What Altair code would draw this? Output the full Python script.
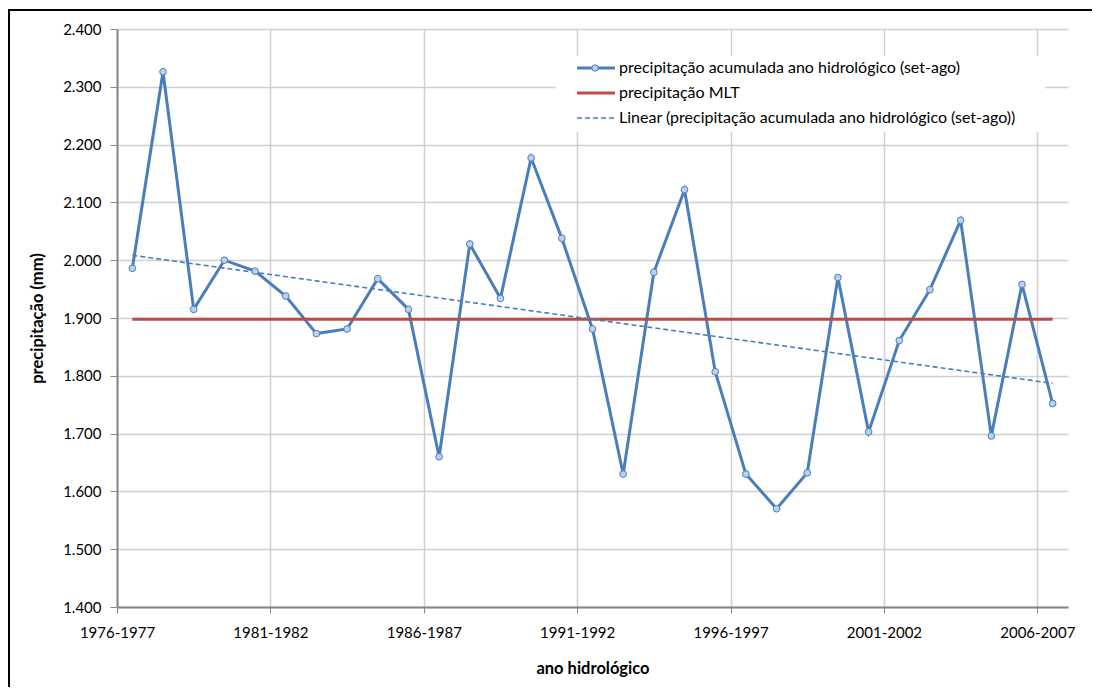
import altair as alt
import numpy as np
import pandas as pd

# ---- data ----
categories = [
    "1976-1977", "1977-1978", "1978-1979", "1979-1980", "1980-1981",
    "1981-1982", "1982-1983", "1983-1984", "1984-1985", "1985-1986",
    "1986-1987", "1987-1988", "1988-1989", "1989-1990", "1990-1991",
    "1991-1992", "1992-1993", "1993-1994", "1994-1995", "1995-1996",
    "1996-1997", "1997-1998", "1998-1999", "1999-2000", "2000-2001",
    "2001-2002", "2002-2003", "2003-2004", "2004-2005", "2005-2006",
    "2006-2007",
]
precip = [1986, 2326, 1915, 2000, 1981, 1938, 1873, 1881, 1968, 1915,
          1660, 2028, 1934, 2177, 2038, 1881, 1630, 1979, 2122, 1807,
          1630, 1570, 1632, 1970, 1703, 1861, 1949, 2069, 1696, 1958,
          1752]
mlt_value = 1898
y_ticks = [1400, 1500, 1600, 1700, 1800, 1900, 2000, 2100, 2200, 2300, 2400]
x_tick_index = [0, 5, 10, 15, 20, 25, 30]
legend_labels = [
    "precipitação acumulada ano hidrológico (set-ago)",
    "precipitação MLT",
    "Linear (precipitação acumulada ano hidrológico (set-ago))",
]

BLUE = "#4a7ebb"
RED = "#be4b48"
MARKER_FILL = "#b9d1ea"
AXIS_GRAY = "#868686"
GRID = "#d0d0d0"
FONT = "Lato"

W, H = 951, 578

df = pd.DataFrame({
    "idx": np.arange(len(categories)) + 0.5,
    "ano": categories,
    "precip": precip,
    "mlt": [mlt_value] * len(categories),
})

label_array = "[" + ",".join("'" + c + "'" for c in categories) + "]"

x_scale = alt.Scale(domain=[0, len(categories)], nice=False, zero=False)
y_scale = alt.Scale(domain=[1400, 2400], nice=False, zero=False)

x_axis = alt.Axis(
    values=x_tick_index,
    labelExpr=label_array + "[datum.value]",
    title="ano hidrológico",
    titleY=61, titleBaseline="middle",
    titleFont=FONT, titleFontSize=16.5, titleFontWeight="bold", titleColor="black",
    labelFont=FONT, labelFontSize=15, labelColor="black",
    labelPadding=12, tickSize=6, tickColor=AXIS_GRAY, tickWidth=1,
    domainColor=AXIS_GRAY, domainWidth=2,
    grid=True, gridColor=GRID, gridWidth=1.5,
    labelOverlap=False, labelBound=False, labelFlush=False,
)
y_axis = alt.Axis(
    values=y_ticks,
    labelExpr="replace(format(datum.value, ','), ',', '.')",
    title="precipitação (mm)",
    titleX=-80, titleY=H / 2, titleAngle=270, titleAlign="center", titleBaseline="middle",
    titleFont=FONT, titleFontSize=16.5, titleFontWeight="bold", titleColor="black",
    labelFont=FONT, labelFontSize=15, labelColor="black",
    labelPadding=9, tickSize=7, tickColor=AXIS_GRAY, tickWidth=1,
    domainColor=AXIS_GRAY, domainWidth=2,
    grid=True, gridColor=GRID, gridWidth=1.5,
)

base = alt.Chart(df)

series_line = base.mark_line(color=BLUE, strokeWidth=3).encode(
    x=alt.X("idx:Q", scale=x_scale, axis=x_axis),
    y=alt.Y("precip:Q", scale=y_scale, axis=y_axis),
)
mlt_line = base.mark_line(color=RED, strokeWidth=3).encode(
    x=alt.X("idx:Q", scale=x_scale),
    y=alt.Y("mlt:Q", scale=y_scale),
)
trend = base.transform_regression(
    "idx", "precip", extent=[0.5, len(categories) - 0.5]
).mark_line(color=BLUE, strokeWidth=1.6, strokeDash=[5, 3]).encode(
    x=alt.X("idx:Q", scale=x_scale),
    y=alt.Y("precip:Q", scale=y_scale),
)
markers = base.mark_point(
    shape="circle", size=45, filled=True, fill=MARKER_FILL,
    stroke=BLUE, strokeWidth=1, opacity=1,
).encode(
    x=alt.X("idx:Q", scale=x_scale),
    y=alt.Y("precip:Q", scale=y_scale),
)

one = pd.DataFrame({"k": [0]})

# legend (drawn by hand)
leg_box = alt.Chart(one).mark_rect(fill="white").encode(
    x=alt.value(439), x2=alt.value(928), y=alt.value(27), y2=alt.value(103)
)
row_y = [39, 64, 89]
leg_sym1 = alt.Chart(one).mark_rule(color=BLUE, strokeWidth=3).encode(
    x=alt.value(460), x2=alt.value(498), y=alt.value(row_y[0])
)
leg_pt = alt.Chart(one).mark_point(
    shape="circle", size=40, filled=True, fill=MARKER_FILL, stroke=BLUE,
    strokeWidth=1, opacity=1
).encode(x=alt.value(478), y=alt.value(row_y[0]))
leg_sym2 = alt.Chart(one).mark_rule(color=RED, strokeWidth=3).encode(
    x=alt.value(460), x2=alt.value(498), y=alt.value(row_y[1])
)
leg_sym3 = alt.Chart(one).mark_rule(color=BLUE, strokeWidth=1.6, strokeDash=[5, 3]).encode(
    x=alt.value(460), x2=alt.value(498), y=alt.value(row_y[2])
)
leg_texts = [
    alt.Chart(one).mark_text(
        align="left", baseline="middle", font=FONT, fontSize=16, color="black"
    ).encode(x=alt.value(502), y=alt.value(ry), text=alt.value(t))
    for ry, t in zip(row_y, legend_labels)
]

# outer frame (top and left edges visible in the reference)
frame_top = alt.Chart(one).mark_rule(color="black", strokeWidth=2).encode(
    x=alt.value(-109), x2=alt.value(W + 24), y=alt.value(-19)
)
frame_left = alt.Chart(one).mark_rule(color="black", strokeWidth=2).encode(
    x=alt.value(-108), y=alt.value(-19), y2=alt.value(H + 80)
)

chart = alt.layer(
    series_line, mlt_line, trend, markers,
    leg_box, leg_sym1, leg_pt, leg_sym2, leg_sym3, *leg_texts,
    frame_top, frame_left,
).properties(
    width=W, height=H,
    autosize=alt.AutoSizeParams(type="none"),
    padding={"left": 109, "top": 21, "right": 24, "bottom": 80},
    background="white",
).configure_view(stroke=None)

chart.save("out.html", embed_options={"renderer": "svg", "actions": False})
